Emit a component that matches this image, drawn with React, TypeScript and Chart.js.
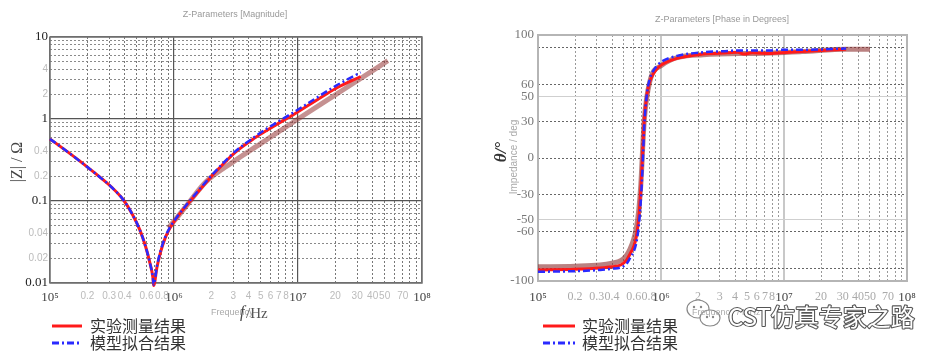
import React, { useEffect, useRef } from "react";
import { Chart, registerables } from "chart.js";

Chart.register(...registerables);

// ---------------- Data ----------------
const legendLabels = ["实验测量结果", "模型拟合结果"];

// |Z| (Ohm) vs frequency (Hz)
const magFreq = [1e5, 1.2e5, 1.45e5, 1.7e5, 2.05e5, 2.5e5, 3.1e5, 3.9e5, 4.6e5, 5.3e5, 5.9e5, 6.4e5, 6.75e5, 6.85e5, 7.3e5, 7.8e5, 8.5e5, 9.3e5, 1.05e6, 1.3e6, 1.8e6, 2.2e6, 3.1e6, 4.5e6, 5.8e6, 9.5e6, 1.4e7, 2e7, 3.2e7];
const magMeasured = [0.57, 0.467, 0.378, 0.315, 0.252, 0.198, 0.15, 0.1035, 0.0695, 0.0444, 0.0279, 0.0175, 0.0118, 0.0093, 0.0158, 0.024, 0.0355, 0.047, 0.062, 0.093, 0.166, 0.232, 0.39, 0.59, 0.75, 1.17, 1.68, 2.34, 3.3];
const magFit = [0.57, 0.467, 0.378, 0.315, 0.252, 0.198, 0.15, 0.1035, 0.0695, 0.0444, 0.0279, 0.0175, 0.0118, 0.0095, 0.0163, 0.0248, 0.0365, 0.048, 0.063, 0.095, 0.17, 0.238, 0.4, 0.61, 0.79, 1.24, 1.8, 2.52, 3.7];
const magTraceFreq = [9e5, 1.05e6, 1.3e6, 1.8e6, 3e6, 5e6, 1e7, 2e7, 3.5e7, 5.3e7];
const magTrace = [0.047, 0.062, 0.093, 0.17, 0.3, 0.5, 1.0, 1.97, 3.41, 5.14];

// Phase (deg) vs frequency (Hz)
const phaseFreq = [1e5, 2e5, 3.2e5, 4e5, 4.7e5, 5.25e5, 5.6e5, 6e5, 6.3e5, 6.6e5, 6.85e5, 7.1e5, 7.3e5, 7.7e5, 8.1e5, 8.5e5, 9.1e5, 1e6, 1.35e6, 2.2e6, 3.5e6, 4.2e6, 4.7e6, 5.5e6, 7.9e6, 9.5e6, 1.4e7, 3.2e7];
const phaseMeasured = [-91, -90.5, -89.5, -88.5, -87, -83, -78, -72, -64, -48, -25, 5, 30, 52, 62, 67, 71.5, 75.5, 81, 84.5, 85.5, 86, 84.5, 85.5, 85, 85.5, 86.5, 88.5];
const phaseFit = [-92.5, -92, -91, -90, -89, -86, -81.5, -76, -69, -55, -35, -5, 25, 53, 64, 69.5, 74, 78, 83, 86, 87, 87.5, 87.5, 87.5, 87.5, 88, 88, 89];
const phaseTraceFreq = [1e5, 2e5, 3.2e5, 4e5, 4.7e5, 5.25e5, 5.6e5, 6e5, 6.3e5, 6.6e5, 6.85e5, 7.3e5, 8.1e5, 1e6, 2.2e6, 5.5e6, 1.4e7, 3.2e7, 5e7];
const phaseTrace = [-88.5, -88, -87, -85.5, -83.5, -79, -74, -66, -57, -42, -22, 30, 62, 75, 84, 85, 86.5, 88.5, 88.5];

// Tick values and labels
const freqTicks = [1e5, 2e5, 3e5, 4e5, 5e5, 6e5, 7e5, 8e5, 9e5, 1e6, 2e6, 3e6, 4e6, 5e6, 6e6, 7e6, 8e6, 9e6, 1e7, 2e7, 3e7, 4e7, 5e7, 6e7, 7e7, 8e7, 9e7, 1e8];
const freqTickLabels = ["10⁵", "0.2", "0.3", "0.4", "", "0.6", "", "0.8", "", "10⁶", "2", "3", "4", "5", "6", "7", "8", "", "10⁷", "20", "30", "40", "50", "", "70", "", "", "10⁸"];
const magTicks = [0.01, 0.02, 0.03, 0.04, 0.05, 0.06, 0.07, 0.08, 0.09, 0.1, 0.2, 0.3, 0.4, 0.5, 0.6, 0.7, 0.8, 0.9, 1, 2, 3, 4, 5, 6, 7, 8, 9, 10];
const magTickLabels = ["0.01", "0.02", "", "0.04", "", "", "", "", "", "0.1", "0.2", "", "0.4", "", "", "", "", "", "1", "2", "", "4", "", "", "", "", "", "10"];
const phaseTicks = [-100, -90, -60, -50, -30, 0, 30, 50, 60, 90, 100];
const phaseTickLabels = ["-100", "", "-60", "-50", "-30", "0", "30", "50", "60", "", "100"];

// ---------------- Helpers ----------------
const toPoints = (xs: number[], ys: number[]) => xs.map((x, i) => ({ x, y: ys[i] }));
const isDecade = (v: number) => Math.abs(Math.log10(v) - Math.round(Math.log10(v))) < 1e-9;

const SERIF = '"Liberation Serif", "DejaVu Serif", serif';
const NARROW = '"Liberation Sans Narrow", "Liberation Sans", sans-serif';
const CJK = '"Noto Sans CJK SC", sans-serif';

const decorPlugin: any = {
  id: "decor",
  beforeDatasetsDraw(chart: any, _a: any, opts: any) {
    const { ctx, chartArea: a } = chart;
    ctx.save();
    ctx.strokeStyle = opts.frameColor;
    ctx.lineWidth = opts.frameWidth;
    ctx.strokeRect(a.left, a.top, a.right - a.left, a.bottom - a.top);
    ctx.restore();
  },
  afterDraw(chart: any, _a: any, opts: any) {
    const ctx = chart.ctx;
    if (opts.icon) {
      const ic = opts.icon;
      ctx.save();
      ctx.strokeStyle = "#888";
      ctx.fillStyle = "#fff";
      ctx.lineWidth = 1.2;
      ctx.beginPath();
      ctx.ellipse(ic.x, ic.y, 11, 9, 0, 0, Math.PI * 2);
      ctx.fill();
      ctx.stroke();
      ctx.beginPath();
      ctx.ellipse(ic.x + 12, ic.y + 9, 10, 8, 0, 0, Math.PI * 2);
      ctx.fill();
      ctx.stroke();
      ctx.fillStyle = "#888";
      [[-4, -2], [3, -2], [9, 8], [15, 8]].forEach(([dx, dy]) => {
        ctx.beginPath();
        ctx.arc(ic.x + dx, ic.y + dy, 1.2, 0, Math.PI * 2);
        ctx.fill();
      });
      ctx.restore();
    }
    (opts.texts || []).forEach((t: any) => {
      ctx.save();
      ctx.font = t.font;
      ctx.textAlign = t.align || "left";
      ctx.textBaseline = "middle";
      ctx.translate(t.x, t.y);
      if (t.rotate) ctx.rotate(t.rotate);
      if (t.stroke) {
        ctx.lineWidth = t.strokeWidth || 2;
        ctx.strokeStyle = t.stroke;
        ctx.lineJoin = "round";
        ctx.strokeText(t.text, 0, 0);
      }
      ctx.fillStyle = t.color;
      ctx.fillText(t.text, 0, 0);
      ctx.restore();
    });
    const lg = opts.legend;
    if (lg) {
      let row = 0;
      chart.data.datasets.forEach((ds: any) => {
        if (!legendLabels.includes(ds.label)) return;
        const y = lg.y + row * lg.rowGap;
        ctx.save();
        ctx.strokeStyle = ds.borderColor;
        ctx.lineWidth = lg.lineWidth;
        ctx.setLineDash(ds.borderDash || []);
        ctx.beginPath();
        ctx.moveTo(lg.x, y);
        ctx.lineTo(lg.x + lg.sample, y);
        ctx.stroke();
        ctx.setLineDash([]);
        ctx.font = lg.font;
        ctx.fillStyle = lg.color;
        ctx.textAlign = "left";
        ctx.textBaseline = "middle";
        ctx.fillText(ds.label, lg.x + lg.sample + lg.gap, y);
        ctx.restore();
        row++;
      });
    }
  },
};

const freqAxis = (light: boolean) => ({
  type: "logarithmic",
  min: 1e5,
  max: 1e8,
  afterBuildTicks: (s: any) => {
    s.ticks = freqTicks.map((v) => ({ value: v }));
  },
  grid: {
    drawTicks: false,
    color: (c: any) => (isDecade(c.tick.value) ? (light ? "#c8c8c8" : "#555") : light ? "#999" : "#777"),
    lineWidth: (c: any) => (isDecade(c.tick.value) ? (light ? 2 : 1.2) : 1),
  },
  border: {
    display: false,
    dash: (c: any) => (c.tick && isDecade(c.tick.value) ? [] : [2, 2]),
  },
  ticks: {
    autoSkip: false,
    maxRotation: 0,
    padding: light ? 9 : 7,
    callback: (_v: any, i: number) => freqTickLabels[i],
    color: (c: any) => (isDecade(c.tick.value) ? "#444" : light ? "#aaa" : "#bbb"),
    font: (c: any) =>
      isDecade(c.tick.value)
        ? { family: SERIF, size: 13 }
        : light
        ? { family: SERIF, size: 12 }
        : { family: NARROW, size: 10 },
  },
});

const commonDs = { pointRadius: 0, cubicInterpolationMode: "monotone", fill: false };

const magConfig = (): any => ({
  type: "line",
  data: {
    datasets: [
      { ...commonDs, label: "trace", data: toPoints(magTraceFreq, magTrace), borderColor: "rgba(150,55,55,0.55)", borderWidth: 5, order: 3 },
      { ...commonDs, label: legendLabels[0], data: toPoints(magFreq, magMeasured), borderColor: "#ff1a1a", borderWidth: 3, order: 2, clip: 6 },
      { ...commonDs, label: legendLabels[1], data: toPoints(magFreq, magFit), borderColor: "#2a2aff", borderWidth: 2.5, borderDash: [7, 3, 2, 3], order: 1, clip: 6 },
    ],
  },
  options: {
    responsive: false,
    animation: false,
    layout: { padding: { left: 0, right: 48, top: 37, bottom: 0 } },
    plugins: {
      legend: { display: false },
      tooltip: { enabled: false },
      decor: {
        frameColor: "#777",
        frameWidth: 1.5,
        texts: [
          { text: "Z-Parameters [Magnitude]", x: 235, y: 15, align: "center", font: `9px ${NARROW}`, color: "#999" },
          { text: "|Z| / Ω", x: 18, y: 162, align: "center", rotate: -Math.PI / 2, font: `16px ${SERIF}`, color: "#444" },
          { text: "Frequency", x: 211, y: 313, font: `9px ${NARROW}`, color: "#aaa" },
          { text: "f", x: 240, y: 313, font: `italic 16px ${SERIF}`, color: "#444" },
          { text: "/Hz", x: 246, y: 314, font: `15px ${SERIF}`, color: "#555" },
        ],
        legend: { x: 52, y: 326, rowGap: 17, sample: 30, gap: 8, lineWidth: 3, font: `16px ${CJK}`, color: "#333" },
      },
    },
    scales: {
      x: { ...freqAxis(false), afterFit: (s: any) => { s.height = 75; } },
      y: {
        type: "logarithmic",
        min: 0.01,
        max: 10,
        afterBuildTicks: (s: any) => {
          s.ticks = magTicks.map((v) => ({ value: v }));
        },
        afterFit: (s: any) => { s.width = 50; },
        grid: {
          drawTicks: false,
          color: (c: any) => (isDecade(c.tick.value) ? "#555" : "#8a8a8a"),
          lineWidth: (c: any) => (isDecade(c.tick.value) ? 1.2 : 1),
        },
        border: { display: false, dash: (c: any) => (c.tick && isDecade(c.tick.value) ? [] : [2, 2]) },
        ticks: {
          autoSkip: false,
          padding: 2,
          callback: (_v: any, i: number) => magTickLabels[i],
          color: (c: any) => (isDecade(c.tick.value) ? "#222" : "#bbb"),
          font: (c: any) => (isDecade(c.tick.value) ? { family: SERIF, size: 13 } : { family: NARROW, size: 10 }),
        },
      },
    },
  },
  plugins: [decorPlugin],
});

const phaseConfig = (): any => ({
  type: "line",
  data: {
    datasets: [
      { ...commonDs, label: "trace", data: toPoints(phaseTraceFreq, phaseTrace), borderColor: "rgba(140,45,45,0.6)", borderWidth: 5, order: 3 },
      { ...commonDs, label: legendLabels[0], data: toPoints(phaseFreq, phaseMeasured), borderColor: "#ff1a1a", borderWidth: 3, order: 2 },
      { ...commonDs, label: legendLabels[1], data: toPoints(phaseFreq, phaseFit), borderColor: "#2a2aff", borderWidth: 2.5, borderDash: [7, 3, 2, 3], order: 1 },
    ],
  },
  options: {
    responsive: false,
    animation: false,
    layout: { padding: { left: 0, right: 33, top: 35, bottom: 0 } },
    plugins: {
      legend: { display: false },
      tooltip: { enabled: false },
      decor: {
        frameColor: "#b5b5b5",
        frameWidth: 2,
        icon: { x: 228, y: 309 },
        texts: [
          { text: "Z-Parameters [Phase in Degrees]", x: 252, y: 20, align: "center", font: `9px ${NARROW}`, color: "#999" },
          { text: "Impedance / deg", x: 44, y: 157, align: "center", rotate: -Math.PI / 2, font: `10px "Liberation Sans", sans-serif`, color: "#aaa" },
          { text: "θ/°", x: 32, y: 152, align: "center", rotate: -Math.PI / 2, font: `italic bold 17px ${SERIF}`, color: "#333" },
          { text: "Frequency / MHz", x: 222, y: 313, font: `9px ${NARROW}`, color: "#aaa" },
          { text: "CST仿真专家之路", x: 258, y: 317, font: `24px ${CJK}`, color: "#ffffff", stroke: "#555", strokeWidth: 2.2 },
        ],
        legend: { x: 73, y: 326, rowGap: 17, sample: 32, gap: 7, lineWidth: 3, font: `16px ${CJK}`, color: "#333" },
      },
    },
    scales: {
      x: { ...freqAxis(true), afterFit: (s: any) => { s.height = 77; } },
      y: {
        type: "linear",
        min: -100,
        max: 100,
        afterBuildTicks: (s: any) => {
          s.ticks = phaseTicks.map((v) => ({ value: v }));
        },
        afterFit: (s: any) => { s.width = 68; },
        grid: {
          drawTicks: false,
          color: (c: any) => {
            const v = Math.abs(c.tick.value);
            if (v === 50) return "#cfcfcf";
            if (v === 100) return "#999";
            return "#666";
          },
        },
        border: {
          display: false,
          dash: (c: any) => {
            if (!c.tick) return [];
            const v = Math.abs(c.tick.value);
            return v === 50 || v === 100 ? [] : [2, 2];
          },
        },
        ticks: {
          autoSkip: false,
          padding: 4,
          callback: (_v: any, i: number) => phaseTickLabels[i],
          color: "#777",
          font: { family: SERIF, size: 13 },
        },
      },
    },
  },
  plugins: [decorPlugin],
});

function ChartCanvas({ makeConfig, width, height }: { makeConfig: () => any; width: number; height: number }) {
  const ref = useRef<HTMLCanvasElement>(null);
  useEffect(() => {
    const chart = new Chart(ref.current as HTMLCanvasElement, makeConfig());
    return () => chart.destroy();
  }, [makeConfig]);
  return <canvas ref={ref} width={width} height={height} style={{ display: "block", width, height }} />;
}

export default function App() {
  return (
    <div style={{ position: "absolute", left: 0, top: 0, width: 940, height: 358, display: "flex", background: "#fff" }}>
      <ChartCanvas makeConfig={magConfig} width={470} height={358} />
      <ChartCanvas makeConfig={phaseConfig} width={470} height={358} />
    </div>
  );
}
